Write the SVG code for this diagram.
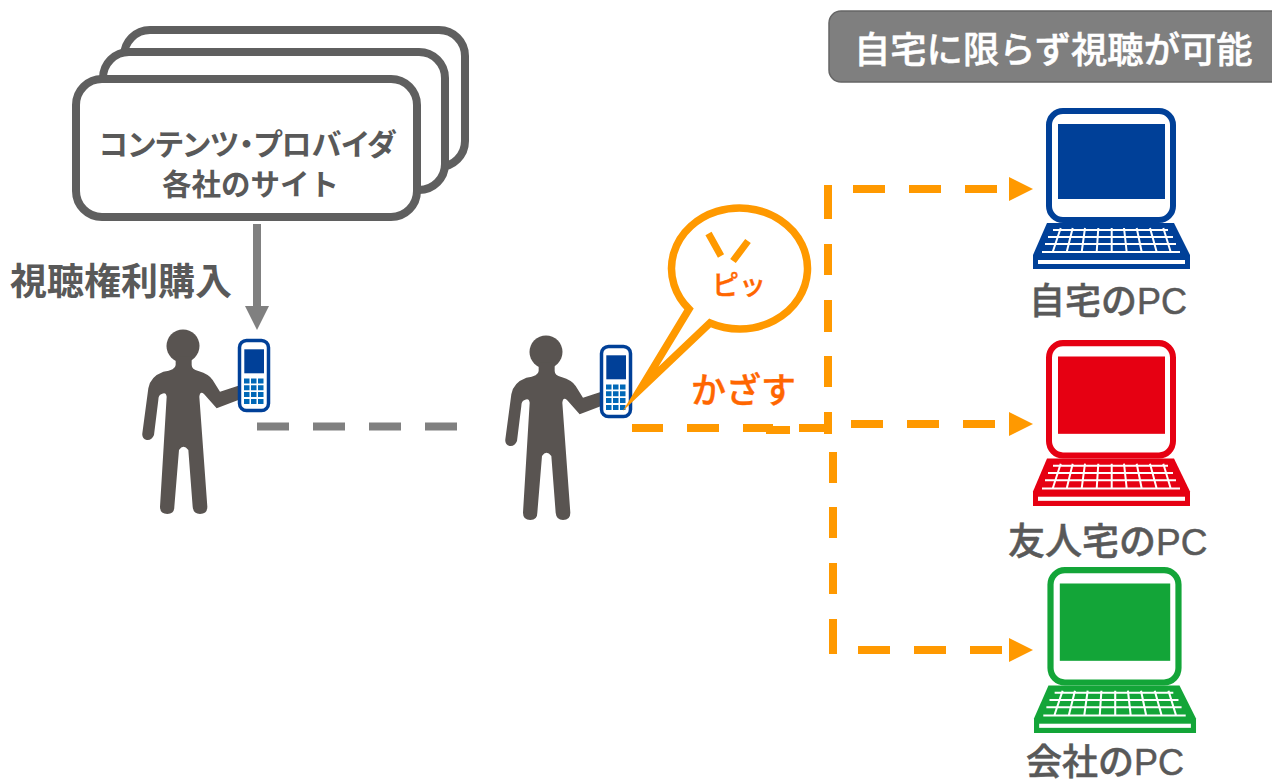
<svg xmlns="http://www.w3.org/2000/svg" width="1272" height="783" viewBox="0 0 1272 783">
<style>
text{font-family:"Liberation Sans","Noto Sans CJK JP",sans-serif}
.g{fill:#595959;font-weight:700}
.pc{fill:#595959;stroke:#595959;stroke-width:.5;font-weight:500;font-size:36px}
.or{fill:#f60;stroke:#f60;stroke-width:.4;font-weight:500}
.box{fill:#fff;stroke:#5f5f5f;stroke-width:8}
.gd{fill:none;stroke:#808080;stroke-width:8;stroke-dasharray:32 24}
.od{fill:none;stroke:#f90;stroke-width:8}
.tip{fill:#f90}
.key{stroke:#fff;stroke-width:2;fill:none}
</style>
<defs>
<g id="person">
<circle cx="183" cy="346" r="16.5" fill="#595451"/>
<path fill="#595451" transform="translate(130 320) scale(.33333)" d="M137 110H185V135Q185 148 205 153Q238 163 248 180L270 215L325 197V240L260 265L222 222Q210 212 208 230L232 560Q232 582 210 582Q190 582 188 560L175 390Q160 370 147 390L133 560Q133 582 112 582Q90 582 90 560L110 230Q108 215 95 222Q85 225 85 240L72 345Q65 362 50 360Q35 355 37 340L55 205Q60 170 100 155Q137 150 137 135Z"/>
</g>
<g id="phone">
<rect x="239.500" y="340.500" width="29" height="70" rx="7" fill="#fff" stroke="#004098" stroke-width="3.500"/>
<rect x="244.300" y="349.300" width="19.700" height="24" fill="#004098"/>
<path fill="#0068b7" d="M244 378.500h5.500v5h-5.500zM251 378.500h5.500v5h-5.500zM258 378.500h5.500v5h-5.500zM244 385.300h5.500v5h-5.500zM251 385.300h5.500v5h-5.500zM258 385.300h5.500v5h-5.500zM244 392.100h5.500v5h-5.500zM251 392.100h5.500v5h-5.500zM258 392.100h5.500v5h-5.500zM244 399h5.500v5h-5.500zM251 399h5.500v5h-5.500zM258 399h5.500v5h-5.500z"/>
</g>
<g id="laptop">
<rect x="16" y="3" width="124" height="109" rx="14" fill="#fff" stroke="currentColor" stroke-width="6"/>
<rect x="25" y="16" width="107" height="75" fill="currentColor"/>
<path fill="currentColor" d="M14 115H141L157 147V161H0V147Z"/>
<rect x="5" y="152" width="147" height="4" fill="#fff"/>
<path class="key" d="M20 122H135M15 129H140M12 136H143M9 144H147M27.700 120L19.700 144M39.700 120L33.700 144M52 120L48.700 144M65.300 120L63.700 144M78.700 120V144M91 120L93.700 144M103.700 120L108.700 144M117 120L123.700 144M130.300 120L137.700 144"/>
</g>
</defs>

<g id="connectors">
<path d="M257 224V307" fill="none" stroke="#808080" stroke-width="8"/>
<path d="M245 306H269L257 330Z" fill="#808080"/>
<path class="gd" d="M257 426.500H457"/>
<path class="od" d="M632 428H663M687 428H719M743 428H773M766 430H790M799 428H828V412M824 430H832"/>
<path class="od" d="M828 387V356M828 332V300M828 275V244M828 219V185"/>
<path class="od" d="M833 452V483M833 507V538M833 563V594M833 619V654"/>
<path class="od" d="M853 189H885M909 189H941M965 189H997"/>
<path class="od" d="M851 424H883M907 424H939M963 424H995"/>
<path class="od" d="M858 650H890M914 650H946M970 650H1002"/>
<path class="tip" d="M1009 177L1033 189L1009 201Z"/>
<path class="tip" d="M1009 412L1033 424L1009 436Z"/>
<path class="tip" d="M1009 638L1033 650L1009 662Z"/>
</g>

<g id="node-provider">
<rect class="box" x="124" y="30" width="341" height="137" rx="26"/>
<rect class="box" x="103" y="52" width="342" height="138" rx="26"/>
<rect class="box" x="76" y="79" width="341" height="138" rx="26"/>
<text class="g" x="99" y="155" font-size="30" style="font-feature-settings:'palt'" textLength="297" lengthAdjust="spacing">コンテンツ・プロバイダ</text>
<text class="g" x="162" y="195" font-size="29.500">各社のサイト</text>
</g>
<g id="label-purchase"><text class="g" x="10" y="295" font-size="37">視聴権利購入</text></g>

<g id="node-user1"><use href="#person"/><use href="#phone"/></g>
<g id="node-user2">
<use href="#person" x="363" y="6"/><use href="#phone" x="362" y="6"/>
</g>

<g id="node-bubble">
<path d="M689 309L640.500 389L710 323A68 60.500 0 1 0 689 309Z" fill="#fff" stroke="#f90" stroke-width="7.500" stroke-miterlimit="40" stroke-linejoin="miter"/>
<path d="M708.500 233.500L721 256M748 241L733 261" fill="none" stroke="#f90" stroke-width="7"/>
<text class="or" x="712" y="295" font-size="27">ピッ</text>
</g>
<g id="label-kazasu"><text class="or" x="691" y="403" font-size="35">かざす</text></g>

<g id="node-title">
<rect x="829" y="11" width="460" height="71" rx="12" fill="#7f7f7f" stroke="#666" stroke-width="1.500"/>
<text x="854" y="63" font-size="36.300" font-weight="500" fill="#fff" stroke="#fff" stroke-width=".5">自宅に限らず視聴が可能</text>
</g>

<g id="node-pc-home">
<use href="#laptop" transform="translate(1033 108)" color="#004098"/>
<text class="pc" x="1029" y="314">自宅のPC</text>
</g>
<g id="node-pc-friend">
<use href="#laptop" transform="translate(1033 340) scale(1 1.031)" color="#e60012"/>
<text class="pc" x="1008" y="555" style="font-size:37px">友人宅のPC</text>
</g>
<g id="node-pc-office">
<use href="#laptop" transform="translate(1034 567) scale(1.032 1.031)" color="#13a538"/>
<text class="pc" x="1026" y="775">会社のPC</text>
</g>
</svg>
